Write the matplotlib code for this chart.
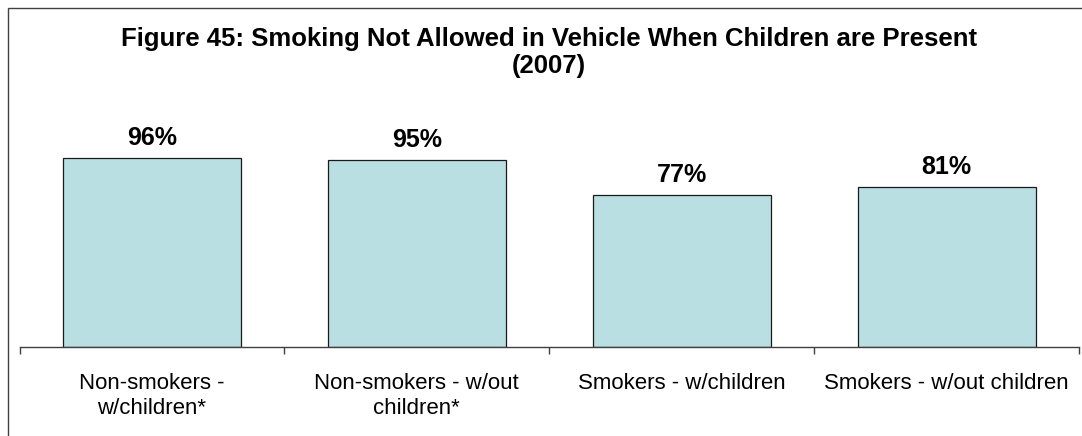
import matplotlib
matplotlib.use("Agg")
import matplotlib.pyplot as plt
from matplotlib.patches import Rectangle

categories = ["Non-smokers -\nw/children*", "Non-smokers - w/out\nchildren*",
              "Smokers - w/children", "Smokers - w/out children"]
values = [96, 95, 77, 81]
title = "Figure 45: Smoking Not Allowed in Vehicle When Children are Present\n(2007)"

plt.rcParams["font.family"] = ["Liberation Sans", "DejaVu Sans"]

W, H = 1082, 436
fig = plt.figure(figsize=(W / 100, H / 100), dpi=100)

# outer chart frame (cut off at right and bottom)
fig.add_artist(Rectangle((8 / W, -0.1), 1.2, 1.1 - 8 / H, transform=fig.transFigure,
                         fill=False, edgecolor="#404040", linewidth=1.0))

ax_left, ax_right = 19.5 / W, 1079 / W
ax_bottom = (H - 347) / H
ax_height = 197 / H
ax = fig.add_axes([ax_left, ax_bottom, ax_right - ax_left, ax_height])

x = list(range(len(categories)))
bars = ax.bar(x, values, width=0.672, color="#B9DFE2", edgecolor="#1a1a1a", linewidth=0.9)

for xi, v in zip(x, values):
    ax.annotate(f"{v}%", (xi, v), xytext=(0, 6), textcoords="offset points",
                ha="center", va="bottom", fontsize=18, fontweight="bold", color="#000000")

ax.set_xlim(-0.5, len(categories) - 0.5)
ax.set_ylim(0, 100)
ax.set_yticks([])
for s in ["top", "right", "left"]:
    ax.spines[s].set_visible(False)
ax.spines["bottom"].set_color("#404040")
ax.spines["bottom"].set_linewidth(1.0)

ax.set_xticks(x)
ax.set_xticklabels(categories, fontsize=16, linespacing=1.2)
ax.tick_params(axis="x", which="major", length=0, pad=19)
ax.set_xticks([i - 0.5 for i in range(len(categories) + 1)], minor=True)
ax.tick_params(axis="x", which="minor", length=5, width=1.0, color="#404040")

fig.text(549 / W, 1 - 27 / H, title, ha="center", va="top", fontsize=18.5,
         fontweight="bold", linespacing=1.15)

fig.savefig("out.png", dpi=100)
